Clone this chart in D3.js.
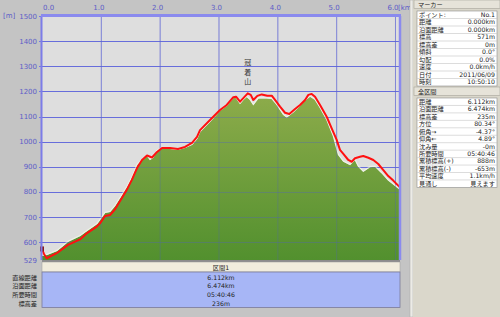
<!DOCTYPE html>
<meta charset="utf-8">
<script src="https://cdn.jsdelivr.net/npm/d3@7"></script>
<style>
body { margin: 0; background: #c4c4c4; }
svg { display: block; font-family: "DejaVu Sans", "Noto Sans CJK JP", sans-serif; }
.axis-label { fill: #5d5dc8; font-size: 7px; }
.panel text { font-size: 6.2px; fill: #222; }
</style>
<body>
<script>
// ground profile (km, m)
var groundDist = [0, 0.085, 0.255, 0.442, 0.646, 0.765, 0.935, 0.986, 1.071, 1.156, 1.241, 1.360, 1.445, 1.530, 1.615, 1.700, 1.785, 1.836, 1.887, 1.955, 2.040, 2.176, 2.312, 2.431, 2.550, 2.635, 2.686, 2.856, 3.026, 3.140, 3.252, 3.298, 3.366, 3.422, 3.480, 3.536, 3.592, 3.677, 3.820, 3.905, 3.990, 4.102, 4.160, 4.272, 4.386, 4.442, 4.556, 4.641, 4.726, 4.839, 4.952, 5.037, 5.122, 5.235, 5.320, 5.376, 5.461, 5.575, 5.660, 5.774, 5.886, 5.983, 6.085];
var groundElev = [545, 549, 565, 601, 624, 644, 672, 688, 716, 720, 744, 788, 820, 859, 907, 927, 943, 927, 935, 963, 975, 971, 967, 975, 987, 1010, 1038, 1078, 1122, 1142, 1174, 1174, 1150, 1166, 1178, 1166, 1146, 1172, 1172, 1170, 1146, 1106, 1096, 1116, 1142, 1158, 1179, 1166, 1134, 1086, 1020, 947, 920, 907, 927, 900, 880, 898, 900, 874, 845, 827, 808];

// gps track (km, m)
var trackDist = [0, 0.034, 0.080, 0.250, 0.442, 0.646, 0.760, 0.930, 0.986, 1.071, 1.156, 1.241, 1.355, 1.440, 1.525, 1.615, 1.700, 1.785, 1.870, 1.955, 2.040, 2.176, 2.312, 2.431, 2.550, 2.635, 2.686, 2.856, 3.026, 3.140, 3.252, 3.298, 3.366, 3.422, 3.497, 3.548, 3.592, 3.660, 3.735, 3.830, 3.905, 3.961, 4.046, 4.131, 4.204, 4.301, 4.386, 4.471, 4.527, 4.584, 4.641, 4.726, 4.839, 4.924, 5.009, 5.065, 5.122, 5.207, 5.264, 5.320, 5.405, 5.461, 5.547, 5.632, 5.716, 5.802, 5.886, 5.971, 6.085];
var trackElev = [571, 553, 536, 556, 589, 611, 635, 662, 675, 704, 708, 731, 775, 808, 847, 895, 927, 945, 937, 959, 975, 975, 971, 979, 995, 1019, 1046, 1086, 1126, 1146, 1177, 1179, 1159, 1173, 1192, 1186, 1166, 1182, 1188, 1183, 1183, 1166, 1139, 1115, 1110, 1130, 1146, 1166, 1186, 1190, 1179, 1146, 1099, 1053, 1007, 967, 951, 927, 920, 934, 940, 943, 936, 927, 911, 887, 863, 845, 818];

var xTicks = [0, 1, 2, 3, 4, 5, 6];
var yTicks = [529, 600, 700, 800, 900, 1000, 1100, 1200, 1300, 1400, 1500];

var peakName = "冠着山";
var peakDist = 3.497, peakElev = 1192;

var sectionTitle = "区間1";
var summaryLabels = ["直線距離", "沿面距離", "所要時間", "標高差"];
var summaryValues = ["6.112km", "6.474km", "05:40:46", "236m"];

var markerLabels = ["ポイント:", "距離", "沿面距離", "標高", "標高差", "傾斜", "勾配", "速度", "日付", "時刻"];
var markerValues = ["No.1", "0.000km", "0.000km", "571m", "0m", "0.0°", "0.0%", "0.0km/h", "2011/06/09", "10:50:10"];
var totalLabels = ["距離", "沿面距離", "標高差", "方位", "俯角→", "仰角←", "沈み量", "所要時間", "累積標高(+)", "累積標高(-)", "平均速度", "見通し"];
var totalValues = ["6.112km", "6.474km", "235m", "80.34°", "-4.37°", "4.89°", "-0m", "05:40:46", "888m", "-653m", "1.1km/h", "見えます"];

var W = 500, H = 317;
var plot = {left: 42, right: 400, top: 16, bottom: 260};

var x = d3.scaleLinear().domain([0, 6.085]).range([plot.left, plot.right]);
var y = d3.scaleLinear().domain([529, 1500]).range([plot.bottom, plot.top]);

var svg = d3.select("body").append("svg")
    .attr("width", W)
    .attr("height", H);

var defs = svg.append("defs");
var grad = defs.append("linearGradient")
    .attr("id", "green")
    .attr("gradientUnits", "userSpaceOnUse")
    .attr("x1", 0).attr("x2", 0)
    .attr("y1", plot.top + 70).attr("y2", plot.bottom);
grad.append("stop").attr("offset", "0%").attr("stop-color", "#90ad4c");
grad.append("stop").attr("offset", "100%").attr("stop-color", "#52902e");

svg.append("rect").attr("width", W).attr("height", H).attr("fill", "#c4c4c4");

// plot background
svg.append("rect")
    .attr("x", plot.left).attr("y", plot.top)
    .attr("width", plot.right - plot.left).attr("height", plot.bottom - plot.top)
    .attr("fill", "#dedede");

// vertical grid
svg.selectAll(".vgrid")
    .data(xTicks.slice(1))
    .enter().append("line")
    .attr("x1", d => x(d) + 0.5).attr("x2", d => x(d) + 0.5)
    .attr("y1", plot.top).attr("y2", plot.bottom)
    .attr("stroke", "#9898e0").attr("stroke-width", 1);

// horizontal grid
svg.selectAll(".hgrid")
    .data(yTicks.slice(1))
    .enter().append("line")
    .attr("x1", plot.left - 3).attr("x2", plot.right)
    .attr("y1", d => Math.round(y(d)) + 0.5).attr("y2", d => Math.round(y(d)) + 0.5)
    .attr("stroke", "#7474ea").attr("stroke-width", 1.2);

// terrain
var groundData = groundDist.map((d, i) => [d, groundElev[i]]);
var trackData = trackDist.map((d, i) => [d, trackElev[i]]);

svg.append("path")
    .datum(groundData)
    .attr("fill", "url(#green)")
    .attr("d", d3.area().x(d => x(d[0])).y0(plot.bottom).y1(d => y(d[1])));

svg.append("path")
    .datum(groundData)
    .attr("fill", "none")
    .attr("stroke", "#eef0e6")
    .attr("stroke-width", 1.2)
    .attr("d", d3.line().x(d => x(d[0])).y(d => y(d[1]) - 0.6));

// grid seen through the terrain (faint)
svg.selectAll(".hgrid2")
    .data(yTicks.slice(1))
    .enter().append("line")
    .attr("x1", plot.left).attr("x2", plot.right)
    .attr("y1", d => Math.round(y(d)) + 0.5).attr("y2", d => Math.round(y(d)) + 0.5)
    .attr("stroke", "#5060c0").attr("stroke-opacity", 0.35).attr("stroke-width", 1);
svg.selectAll(".vgrid2")
    .data(xTicks.slice(1))
    .enter().append("line")
    .attr("x1", d => x(d) + 0.5).attr("x2", d => x(d) + 0.5)
    .attr("y1", plot.top).attr("y2", plot.bottom)
    .attr("stroke", "#5060c0").attr("stroke-opacity", 0.3);

// track
svg.append("path")
    .datum(trackData)
    .attr("fill", "none")
    .attr("stroke", "#ff1010")
    .attr("stroke-width", 2)
    .attr("stroke-linejoin", "round")
    .attr("d", d3.line().x(d => x(d[0])).y(d => y(d[1])));

// start marker
svg.append("rect")
    .attr("x", x(0) - 2).attr("y", y(trackElev[0]) - 3)
    .attr("width", 4).attr("height", 5)
    .attr("fill", "#8a1c1c");

// plot frame
svg.append("line")
    .attr("x1", plot.left - 0.5).attr("x2", plot.left - 0.5)
    .attr("y1", plot.top).attr("y2", plot.bottom)
    .attr("stroke", "#7c7ce8").attr("stroke-width", 2);
svg.append("line")
    .attr("x1", plot.left - 1).attr("x2", plot.right + 1)
    .attr("y1", plot.top - 0.5).attr("y2", plot.top - 0.5)
    .attr("stroke", "#8a8aee").attr("stroke-width", 3);
svg.append("line")
    .attr("x1", plot.right).attr("x2", plot.right)
    .attr("y1", plot.top).attr("y2", plot.bottom)
    .attr("stroke", "#8a8aee").attr("stroke-width", 2.5);

// axis labels
svg.selectAll(".ylab")
    .data(yTicks)
    .enter().append("text")
    .attr("class", "axis-label")
    .attr("x", 37)
    .attr("y", d => y(d) + 2.5)
    .attr("text-anchor", "end")
    .text(d => d);

svg.selectAll(".xlab")
    .data(xTicks)
    .enter().append("text")
    .attr("class", "axis-label")
    .attr("x", d => d === 0 ? x(d) + 1 : x(d) - 2)
    .attr("y", 10)
    .attr("text-anchor", d => d === 0 ? "start" : "middle")
    .text(d => d.toFixed(1));

svg.append("text").attr("class", "axis-label").attr("x", 398).attr("y", 10)
    .attr("font-size", "6.5px").text("[km]");
svg.append("text").attr("class", "axis-label").attr("x", 3).attr("y", 18).text("[m]");

// peak name
svg.selectAll(".peak")
    .data(peakName.split(""))
    .enter().append("text")
    .attr("x", x(peakDist))
    .attr("y", (d, i) => y(peakElev) - 9 - (peakName.length - 1 - i) * 9.5)
    .attr("text-anchor", "middle")
    .attr("font-size", "7px")
    .attr("fill", "#333")
    .text(d => d);

// section summary under the plot
svg.append("rect").attr("x", plot.left).attr("y", plot.bottom)
    .attr("width", plot.right - plot.left).attr("height", 2).attr("fill", "#8c8c8c");
svg.append("rect").attr("x", plot.left).attr("y", 262)
    .attr("width", plot.right - plot.left).attr("height", 10)
    .attr("fill", "#f1eddd").attr("stroke", "#9a9a9a").attr("stroke-width", 0.5);
svg.append("rect").attr("x", plot.left).attr("y", 272)
    .attr("width", plot.right - plot.left).attr("height", 35.5)
    .attr("fill", "#a7b6f6").attr("stroke", "#7a7a9a").attr("stroke-width", 0.8);

var midX = (plot.left + plot.right) / 2;
var summary = svg.append("g").attr("class", "panel");
summary.append("text").attr("x", midX).attr("y", 269.5)
    .attr("text-anchor", "middle").attr("font-size", "6.5px").text(sectionTitle);
summary.selectAll(".sv")
    .data(summaryValues)
    .enter().append("text")
    .attr("x", midX)
    .attr("y", (d, i) => 279.5 + i * 8.7)
    .attr("text-anchor", "middle")
    .attr("font-size", "6.5px")
    .text(d => d);
summary.selectAll(".sl")
    .data(summaryLabels)
    .enter().append("text")
    .attr("x", 37)
    .attr("y", (d, i) => 279.5 + i * 8.7)
    .attr("text-anchor", "end")
    .attr("font-size", "6.5px")
    .text(d => d);

// right info panel
var panel = svg.append("g").attr("class", "panel");
panel.append("rect").attr("x", 410).attr("y", 0).attr("width", 3).attr("height", H)
    .attr("fill", "#ecebe6").attr("stroke", "#a9a9a9").attr("stroke-width", 0.5);
panel.append("rect").attr("x", 413).attr("y", 0).attr("width", 87).attr("height", H)
    .attr("fill", "#dad7cb");

function section(title, top, labels, values, rowH) {
    panel.append("rect").attr("x", 414).attr("y", top).attr("width", 86).attr("height", 8.5)
        .attr("fill", "#e6e3d9").attr("stroke", "#a5a399").attr("stroke-width", 0.6);
    panel.append("text").attr("x", 418).attr("y", top + 6.5).attr("fill", "#555").text(title);
    var t0 = top + 11;
    panel.append("rect").attr("x", 417).attr("y", t0)
        .attr("width", 80).attr("height", rowH * labels.length)
        .attr("fill", "#ffffff").attr("stroke", "#8d8d8d").attr("stroke-width", 0.6);
    panel.selectAll(null)
        .data(labels.slice(1))
        .enter().append("line")
        .attr("x1", 417).attr("x2", 497)
        .attr("y1", (d, i) => t0 + (i + 1) * rowH).attr("y2", (d, i) => t0 + (i + 1) * rowH)
        .attr("stroke", "#c4c4c4").attr("stroke-width", 0.6);
    panel.selectAll(null)
        .data(labels)
        .enter().append("text")
        .attr("x", 419)
        .attr("y", (d, i) => t0 + i * rowH + 5.8)
        .text(d => d);
    panel.selectAll(null)
        .data(values)
        .enter().append("text")
        .attr("x", 495)
        .attr("y", (d, i) => t0 + i * rowH + 5.8)
        .attr("text-anchor", "end")
        .text(d => d);
}

section("マーカー", 0, markerLabels, markerValues, 7.5);
section("全区間", 87, totalLabels, totalValues, 7.45);
</script>
</body>
